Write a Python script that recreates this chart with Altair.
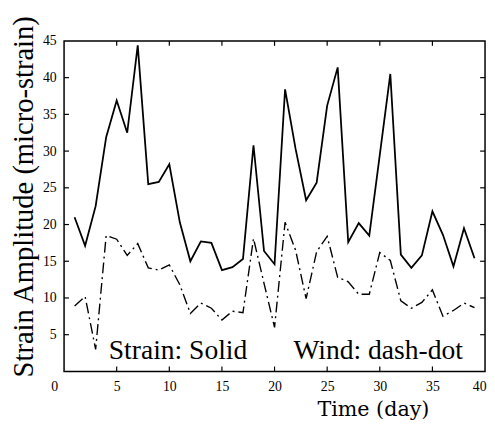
import altair as alt
import pandas as pd

# ---- data ----
days = list(range(1, 40))
strain = [21.0, 17.1, 22.5, 31.9, 36.9, 32.5, 44.4, 25.5, 25.8, 28.2,
          20.3, 15.0, 17.7, 17.5, 13.8, 14.2, 15.3, 30.8, 16.4, 14.6,
          38.4, 30.3, 23.3, 25.7, 36.2, 41.4, 17.6, 20.2, 18.5, 29.5,
          40.5, 15.9, 14.1, 15.8, 21.8, 18.6, 14.3, 19.5, 15.4]
wind = [8.9, 10.2, 3.0, 18.5, 18.0, 15.8, 17.4, 14.1, 13.8, 14.5,
        11.8, 7.9, 9.3, 8.6, 7.0, 8.2, 8.0, 18.1, 12.0, 6.0,
        20.3, 16.5, 9.9, 16.3, 18.4, 12.8, 12.2, 10.5, 10.5, 16.2,
        15.1, 9.6, 8.6, 9.4, 11.1, 7.5, 8.3, 9.3, 8.7]
x_tick_values = [0, 5, 10, 15, 20, 25, 30, 35, 40]
y_tick_values = [5, 10, 15, 20, 25, 30, 35, 40, 45]
inner_x_ticks = [5, 10, 15, 20, 25, 30, 35]
inner_y_ticks = [5, 10, 15, 20, 25, 30, 35, 40]
annotations = ["Strain: Solid", "Wind: dash-dot"]

df = pd.DataFrame({
    "day": days * 2,
    "value": strain + wind,
    "series": ["strain"] * len(days) + ["wind"] * len(days),
})

W, H = 428, 336
FONT = "Liberation Serif"

x_scale = alt.Scale(domain=[0, 40], nice=False)
y_scale = alt.Scale(domain=[0, 45], nice=False)

x_axis = alt.Axis(
    values=x_tick_values, title="Time (day)", grid=False, domain=False,
    ticks=False, tickSize=0, labelFont=FONT, labelFontSize=14,
    labelPadding=8, labelColor="black", labelFlush=False, labelOverlap=False,
    labelOffset={"condition": [
        {"test": "datum.value == 0", "value": -10},
        {"test": "datum.value == 40", "value": -6}], "value": 0},
    titleFont="DejaVu Serif", titleFontSize=21, titleFontWeight="normal",
    titleColor="black", titleX=314, titleY=45, titleAlign="center",
    titleBaseline="alphabetic",
)
y_axis = alt.Axis(
    values=y_tick_values, title="Strain Amplitude (micro-strain)", grid=False,
    domain=False, ticks=False, tickSize=0, labelFont=FONT, labelFontSize=14,
    labelPadding=8, labelColor="black", labelFlush=False, labelOverlap=False,
    titleFont=FONT, titleFontSize=29, titleFontWeight="normal",
    titleColor="black", titleX=-32, titleY=158, titleAlign="center",
    titleBaseline="alphabetic", titleAngle=270,
)

base = alt.Chart(df)
strain_line = base.transform_filter("datum.series == 'strain'").mark_line(
    color="black", strokeWidth=1.8
).encode(
    x=alt.X("day:Q", scale=x_scale, axis=x_axis),
    y=alt.Y("value:Q", scale=y_scale, axis=y_axis),
)
wind_line = base.transform_filter("datum.series == 'wind'").mark_line(
    color="black", strokeWidth=1.4, strokeDash=[11, 4, 2, 4]
).encode(
    x=alt.X("day:Q", scale=x_scale),
    y=alt.Y("value:Q", scale=y_scale),
)

xt = pd.DataFrame({"v": inner_x_ticks})
yt = pd.DataFrame({"v": inner_y_ticks})
bottom_ticks = alt.Chart(xt).mark_rule(color="black", strokeWidth=1.2).encode(
    x=alt.X("v:Q", scale=x_scale), y=alt.value(H), y2=alt.value(H - 5))
top_ticks = alt.Chart(xt).mark_rule(color="black", strokeWidth=1.2).encode(
    x=alt.X("v:Q", scale=x_scale), y=alt.value(0), y2=alt.value(5))
left_ticks = alt.Chart(yt).mark_rule(color="black", strokeWidth=1.2).encode(
    y=alt.Y("v:Q", scale=y_scale), x=alt.value(0), x2=alt.value(5))
right_ticks = alt.Chart(yt).mark_rule(color="black", strokeWidth=1.2).encode(
    y=alt.Y("v:Q", scale=y_scale), x=alt.value(W), x2=alt.value(W - 5))

label1 = alt.Chart(pd.DataFrame({"t": [annotations[0]]})).mark_text(
    align="left", baseline="alphabetic", font=FONT, fontSize=28, color="black"
).encode(x=alt.datum(4.25), y=alt.datum(1.7), text="t:N")
label2 = alt.Chart(pd.DataFrame({"t": [annotations[1]]})).mark_text(
    align="left", baseline="alphabetic", font=FONT, fontSize=28, color="black"
).encode(x=alt.datum(21.8), y=alt.datum(1.7), text="t:N")

chart = alt.layer(
    strain_line, wind_line, bottom_ticks, top_ticks, left_ticks, right_ticks,
    label1, label2,
).properties(
    width=W, height=H,
    padding={"left": 57, "top": 30, "right": 2, "bottom": 51},
    autosize=alt.AutoSizeParams(type="none"),
    background="white",
).configure_view(stroke="black", strokeWidth=1.5)

chart.save("out.html", embed_options={"renderer": "svg", "actions": False})
